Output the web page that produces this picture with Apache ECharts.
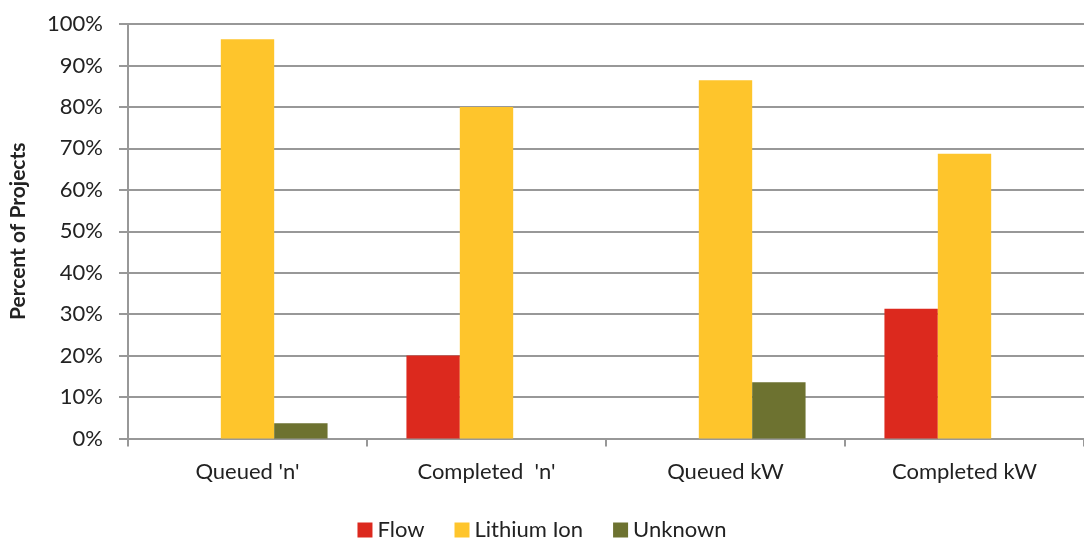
<!DOCTYPE html>
<html>
<head>
<meta charset="utf-8">
<script src="https://cdn.jsdelivr.net/npm/echarts@6/dist/echarts.min.js"></script>
<style>
  html, body { margin: 0; padding: 0; background: #fff; }
  #chart { width: 1084px; height: 542px; }
</style>
</head>
<body>
<div id="chart"></div>
<script>
// categories and series values (percent of projects)
const categories = ["Queued 'n'", "Completed  'n'", 'Queued kW', 'Completed kW']
const flow = [0, 20, 0, 31.3]
const lithiumIon = [96.3, 80, 86.4, 68.7]
const unknown = [3.7, 0, 13.6, 0]

const font = 'Lato'
const gray = '#989898'
const textColor = '#222'

var chart = echarts.init(document.getElementById('chart'))

var option = {
  animation: false,
  textStyle: { fontFamily: font },
  color: ['#DC291E', '#FEC52C', '#6D7230'],
  legend: {
    top: 514,
    left: 'center',
    itemWidth: 15,
    itemHeight: 15,
    itemGap: 30,
    icon: 'rect',
    textStyle: { fontSize: 22, color: textColor, fontFamily: font },
    data: ['Flow', 'Lithium Ion', 'Unknown']
  },
  grid: {
    left: 128,
    right: 0,
    top: 24,
    bottom: 103.5,
    outerBoundsMode: 'none'
  },
  xAxis: {
    type: 'category',
    data: categories,
    axisLine: { lineStyle: { color: gray, width: 2 } },
    axisTick: { show: true, length: 8, lineStyle: { color: gray, width: 2 } },
    axisLabel: { fontSize: 22, color: textColor, margin: 22, fontFamily: font }
  },
  yAxis: {
    type: 'value',
    min: 0,
    max: 100,
    interval: 10,
    name: 'Percent of Projects',
    nameLocation: 'middle',
    nameGap: 99,
    nameTextStyle: { fontSize: 21, fontWeight: 'bold', color: textColor, fontFamily: font },
    axisLine: { show: true, lineStyle: { color: gray, width: 2 } },
    axisTick: { show: true, length: 9, lineStyle: { color: gray, width: 2 } },
    axisLabel: { fontSize: 22, color: textColor, margin: 25, formatter: '{value}%', fontFamily: font },
    splitLine: { lineStyle: { color: gray, width: 2 } }
  },
  series: [
    { name: 'Flow', type: 'bar', data: flow, barGap: '0%', barCategoryGap: '33%' },
    { name: 'Lithium Ion', type: 'bar', data: lithiumIon },
    { name: 'Unknown', type: 'bar', data: unknown }
  ]
}

chart.setOption(option)
</script>
</body>
</html>
